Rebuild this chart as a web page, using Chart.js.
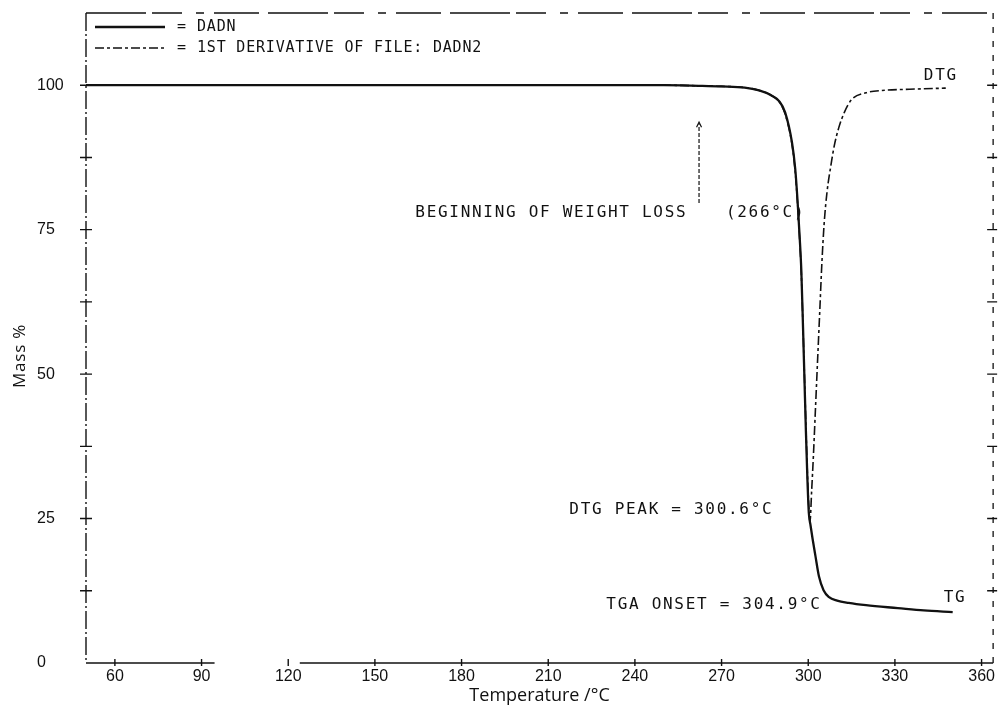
<!DOCTYPE html>
<html>
<head>
<meta charset="utf-8">
<title>DADN TG / DTG</title>
<script src="https://cdn.jsdelivr.net/npm/chart.js@4.4.1/dist/chart.umd.min.js"></script>
<style>
  html, body { margin: 0; padding: 0; background: #fff; }
  #wrap { position: relative; width: 999px; height: 709px; }
</style>
</head>
<body>
<div id="wrap"><canvas id="tga"></canvas></div>
<script>
// --- Data ---
const seriesNames = ["DADN", "1ST DERIVATIVE OF FILE: DADN2"];
const xTickValues = [60, 90, 120, 150, 180, 210, 240, 270, 300, 330, 360];
const yLabelValues = [0, 25, 50, 75, 100];

// TG trace: mass % against temperature (°C)
const tgTemp = [50, 100, 150, 200, 250, 262, 270, 278, 283, 287, 290, 292, 294.4, 295.5, 296.3, 297, 297.6, 298.2, 298.7, 299.2, 299.7, 300.2, 300.8, 301.5, 302.5, 303.7, 305.3, 307.2, 310, 314, 320, 331, 340, 350];
const tgMass = [100, 100, 100, 100, 100, 99.9, 99.8, 99.6, 99.1, 98.3, 97.2, 95.3, 90, 85.5, 80, 74, 68, 58, 49, 40, 32, 26, 23.8, 21.5, 18.5, 15, 12.6, 11.4, 10.8, 10.4, 10, 9.5, 9.1, 8.8];

// DTG trace (first derivative, plotted on the same frame)
const dtgTemp = [50, 100, 150, 200, 250, 262, 270, 278, 283, 287, 290, 292, 294.4, 295.5, 296.3, 297, 297.6, 298.2, 298.7, 299.2, 299.7, 300.2, 300.6, 301.2, 301.8, 302.5, 303.2, 304, 304.7, 305.5, 306.5, 307.8, 309, 310.6, 312.5, 315, 320, 325.5, 335, 347.6];
const dtgMass = [100, 100, 100, 100, 100, 99.9, 99.8, 99.6, 99.1, 98.3, 97.1, 95, 89.7, 85, 79.5, 73.5, 67.5, 58, 49.5, 41, 33, 27, 24.5, 30, 36, 44, 52, 61, 69, 76, 81.5, 86, 89.5, 92.7, 95.3, 97.5, 98.7, 99.1, 99.3, 99.5];

// Text notes placed in data units (temperature, mass %)
const notes = [
  { text: "BEGINNING OF WEIGHT LOSS", t: 164, m: 77.9 },
  { text: "(266°C)", t: 271.5, m: 77.9 },
  { text: "DTG PEAK = 300.6°C", t: 217.3, m: 26.5 },
  { text: "TGA ONSET = 304.9°C", t: 230.1, m: 10.0 },
  { text: "DTG", t: 340.0, m: 101.6 },
  { text: "TG", t: 346.9, m: 11.2 }
];
// Arrow marking the start of weight loss
const arrowAt = { t: 262.2, from: 79.6, to: 93.6 };
// Stretch of the temperature axis line left blank by the plotter
const axisGap = { from: 94.5, to: 124 };

const INK = "#111";
const plotterFont = "'DejaVu Sans Mono', monospace";
const tickFont = { family: "'Liberation Sans', Arial, sans-serif", size: 16 };

const toPoints = (xs, ys) => xs.map((v, i) => ({ x: v, y: ys[i] }));

// --- Plugins ---
// plotter-style frame: broken lines on three sides, gapped base line
const frame = {
  id: "frame",
  afterDraw(chart) {
    const { ctx, chartArea: a, scales: { x } } = chart;
    const seg = (x1, y1, x2, y2, dash, w) => {
      ctx.lineWidth = w;
      ctx.setLineDash(dash);
      ctx.beginPath();
      ctx.moveTo(x1, y1);
      ctx.lineTo(x2, y2);
      ctx.stroke();
    };
    ctx.save();
    ctx.strokeStyle = INK;
    seg(a.left, a.top, a.right, a.top, [60, 6, 30, 14, 8, 10, 45, 9], 1.3);
    seg(a.left, a.top, a.left, a.bottom, [18, 3, 2, 3], 1.4);
    seg(a.right, a.top, a.right, a.bottom, [6, 8], 1.3);
    seg(a.left, a.bottom, x.getPixelForValue(axisGap.from), a.bottom, [], 1.5);
    seg(x.getPixelForValue(axisGap.to), a.bottom, a.right, a.bottom, [], 1.5);
    ctx.restore();
  }
};

// small "+" marks where ticks cross the frame
const crossTicks = {
  id: "crossTicks",
  afterDraw(chart) {
    const { ctx, chartArea: a, scales } = chart;
    ctx.save();
    ctx.strokeStyle = INK;
    ctx.lineWidth = 1.4;
    ctx.beginPath();
    scales.y.ticks.forEach((tk) => {
      if (tk.value <= 0 || tk.value >= scales.y.max) return;
      const py = scales.y.getPixelForValue(tk.value);
      ctx.moveTo(a.left - 6, py);
      ctx.lineTo(a.left + 6, py);
    });
    scales.y2.ticks.forEach((tk) => {
      if (tk.value <= 0 || tk.value >= scales.y2.max) return;
      const py = scales.y2.getPixelForValue(tk.value);
      ctx.moveTo(a.right - 6, py);
      ctx.lineTo(a.right + 4, py);
    });
    scales.x.ticks.forEach((tk) => {
      const px = scales.x.getPixelForValue(tk.value);
      ctx.moveTo(px, a.bottom - 4);
      ctx.lineTo(px, a.bottom + 3);
    });
    ctx.stroke();
    ctx.restore();
  }
};

// legend, notes, arrow and the rotated y title
const overlay = {
  id: "overlay",
  afterDraw(chart) {
    const { ctx, chartArea: a, scales: { x, y } } = chart;
    ctx.save();
    ctx.fillStyle = INK;
    ctx.strokeStyle = INK;
    ctx.textBaseline = "middle";

    // legend in the top-left corner
    ctx.font = "15px " + plotterFont;
    ctx.letterSpacing = "0.8px";
    chart.data.datasets.forEach((ds, i) => {
      const ly = a.top + 14 + i * 21;
      ctx.save();
      ctx.lineWidth = ds.borderWidth;
      ctx.setLineDash(ds.borderDash || []);
      ctx.beginPath();
      ctx.moveTo(a.left + 9, ly);
      ctx.lineTo(a.left + 79, ly);
      ctx.stroke();
      ctx.restore();
      ctx.fillText("=", a.left + 91, ly);
      ctx.fillText(ds.label, a.left + 111, ly);
    });

    // notes
    ctx.font = "16px " + plotterFont;
    ctx.letterSpacing = "1.7px";
    notes.forEach((n) => {
      ctx.fillText(n.text, x.getPixelForValue(n.t), y.getPixelForValue(n.m));
    });

    // dashed arrow
    const ax = x.getPixelForValue(arrowAt.t);
    const y0 = y.getPixelForValue(arrowAt.from);
    const y1 = y.getPixelForValue(arrowAt.to);
    ctx.lineWidth = 1.2;
    ctx.setLineDash([4, 2]);
    ctx.beginPath();
    ctx.moveTo(ax, y0);
    ctx.lineTo(ax, y1 + 2);
    ctx.stroke();
    ctx.setLineDash([]);
    ctx.beginPath();
    ctx.moveTo(ax - 2.5, y1 + 5);
    ctx.lineTo(ax, y1);
    ctx.lineTo(ax + 2.5, y1 + 5);
    ctx.stroke();

    // y axis title
    ctx.letterSpacing = "0.8px";
    ctx.font = "17px 'Open Sans', sans-serif";
    ctx.translate(20, (a.top + a.bottom) / 2 + 18);
    ctx.rotate(-Math.PI / 2);
    ctx.textAlign = "center";
    ctx.fillText("Mass %", 0, 0);
    ctx.restore();
  }
};

// --- Chart ---
new Chart(document.getElementById("tga"), {
  type: "line",
  data: {
    datasets: [
      {
        label: seriesNames[0],
        data: toPoints(tgTemp, tgMass),
        borderColor: INK,
        borderWidth: 2.3,
        pointRadius: 0,
        cubicInterpolationMode: "monotone"
      },
      {
        label: seriesNames[1],
        data: toPoints(dtgTemp, dtgMass),
        borderColor: INK,
        borderWidth: 1.6,
        borderDash: [9, 3, 3, 3],
        pointRadius: 0,
        cubicInterpolationMode: "monotone"
      }
    ]
  },
  options: {
    responsive: true,
    maintainAspectRatio: false,
    animation: false,
    layout: { padding: { left: 37, right: 0, top: 0, bottom: 0 } },
    plugins: { legend: { display: false }, tooltip: { enabled: false } },
    scales: {
      x: {
        type: "linear",
        position: "bottom",
        min: 50,
        max: 364,
        afterBuildTicks: (s) => { s.ticks = xTickValues.map((v) => ({ value: v })); },
        afterFit: (s) => { s.height = 46; },
        border: { display: false },
        grid: { display: false, drawTicks: false },
        ticks: { color: INK, font: tickFont, padding: 4, maxRotation: 0, autoSkip: false },
        title: {
          display: true,
          text: "Temperature /°C",
          color: INK,
          font: { family: "'Open Sans', sans-serif", size: 18 },
          padding: { top: 0, bottom: 2 }
        }
      },
      x2: {
        type: "linear",
        position: "top",
        min: 50,
        max: 364,
        afterFit: (s) => { s.height = 13; },
        border: { display: false },
        grid: { display: false, drawTicks: false },
        ticks: { display: false }
      },
      y: {
        min: 0,
        max: 112.5,
        afterFit: (s) => { s.width = 49; },
        border: { display: false },
        grid: { display: false, drawTicks: false },
        ticks: {
          stepSize: 12.5,
          crossAlign: "far",
          padding: 0,
          color: INK,
          font: tickFont,
          autoSkip: false,
          callback: (v) => (yLabelValues.includes(v) ? String(v) : "")
        }
      },
      y2: {
        position: "right",
        min: 0,
        max: 112.5,
        afterFit: (s) => { s.width = 4; },
        border: { display: false },
        grid: { display: false, drawTicks: false },
        ticks: { display: false, stepSize: 12.5 }
      }
    }
  },
  plugins: [frame, crossTicks, overlay]
});
</script>
</body>
</html>
